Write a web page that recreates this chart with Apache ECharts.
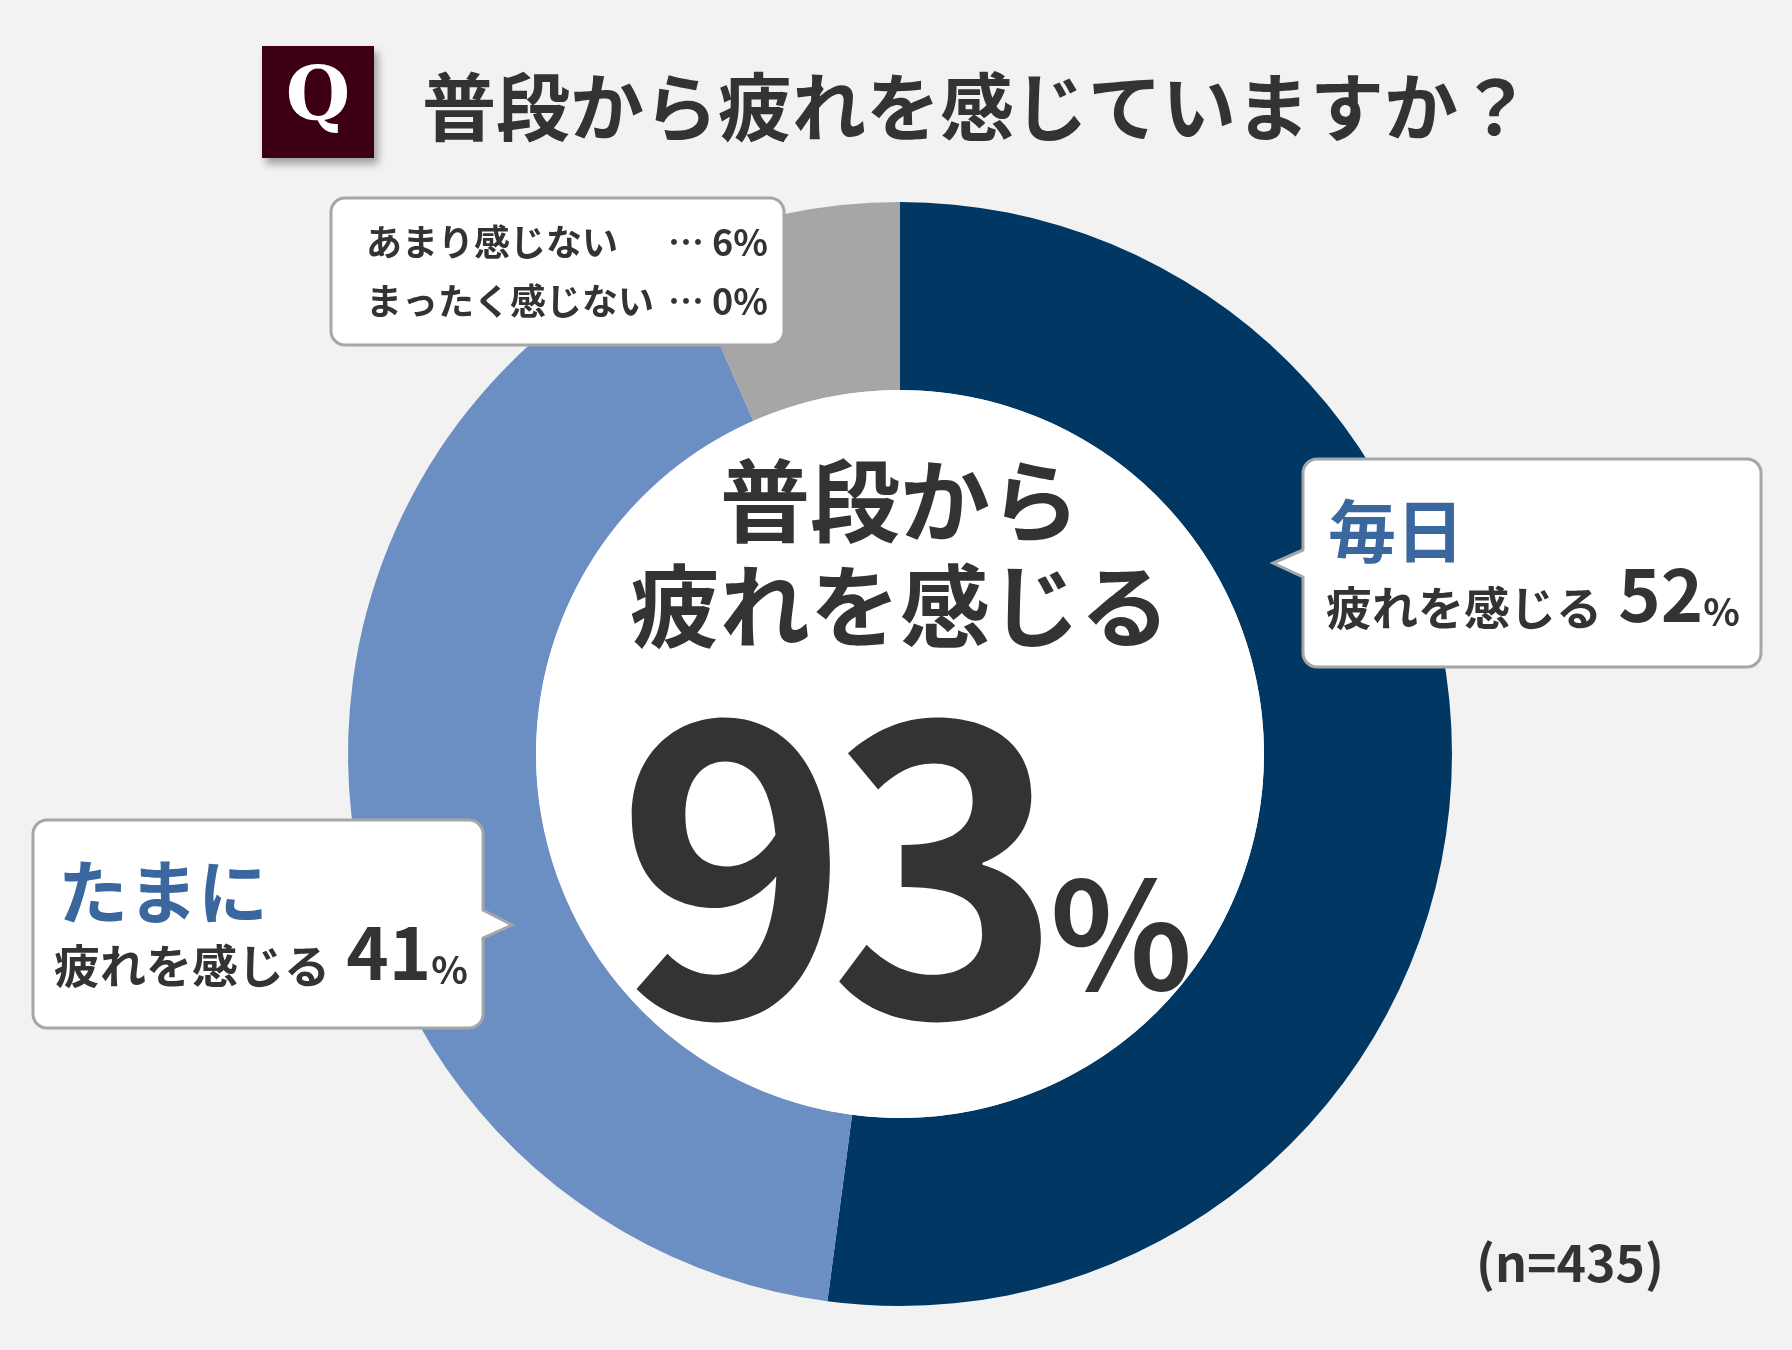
<!DOCTYPE html>
<html lang="ja">
<head>
<meta charset="utf-8">
<title>普段から疲れを感じていますか？</title>
<script src="https://cdn.jsdelivr.net/npm/echarts@6/dist/echarts.min.js"></script>
<style>
  html, body { margin: 0; padding: 0; background: #f2f2f2; }
  #chart { width: 1792px; height: 1350px; }
</style>
</head>
<body>
<div id="chart"></div>
<script>
const question = '普段から疲れを感じていますか？'
const categories = ['毎日', 'たまに', 'あまり感じない', 'まったく感じない']
const percents = [52, 41, 6, 0]
// slice sizes as they appear in the ring (labels are rounded)
const shares = [52.1, 41.3, 6.6, 0]
const totalTired = 93
const sampleSize = 435
const colors = ['#013763', '#6b8fc3', '#a6a6a6', '#d9d9d9']

const FONT = '"Noto Sans CJK JP", "Noto Sans", sans-serif'
const DARK = '#333333'
const ACCENT = '#3a679e'
const BORDER = '#a6a6a6'
const CX = 900, CY = 754

function bubble(x, y, w, h, side, tip, b0, b1) {
  const els = [{
    type: 'rect', z: 10,
    shape: { x, y, width: w, height: h, r: 14 },
    style: { fill: '#fff', stroke: BORDER, lineWidth: 3 },
  }]
  if (side) {
    const edge = side === 'left' ? x : x + w
    const inset = side === 'left' ? 3 : -3
    els.push({
      type: 'polygon', z: 11,
      shape: { points: [[edge + inset, b0], tip, [edge + inset, b1]] },
      style: { fill: '#fff' },
    })
    els.push({
      type: 'polyline', z: 11,
      shape: { points: [[edge, b0], tip, [edge, b1]] },
      style: { stroke: BORDER, lineWidth: 3, fill: null },
    })
  }
  return els
}

function txt(x, y, text, size, color, align, family) {
  return {
    type: 'text', z: 12, x, y,
    style: {
      text, fill: color, font: `bold ${size}px ${family || FONT}`,
      align: align || 'left', verticalAlign: 'middle',
    },
  }
}

function pctLine(x, y, i) {
  return {
    type: 'text', z: 12, x, y,
    style: {
      text: `{a|疲れを感じる}{b| ${percents[i]}}{c|%}`,
      align: 'left', verticalAlign: 'middle',
      rich: {
        a: { font: `bold 46px ${FONT}`, fill: DARK, verticalAlign: 'bottom' },
        b: { font: `bold 72px ${FONT}`, fill: DARK, verticalAlign: 'bottom' },
        c: { font: `bold 38px ${FONT}`, fill: DARK, verticalAlign: 'bottom' },
      },
    },
  }
}

const chart = echarts.init(document.getElementById('chart'))

const bigDigits = String(totalTired).split('')

const graphics = [
  // question header
  {
    type: 'rect', z: 10,
    shape: { x: 262, y: 46, width: 112, height: 112 },
    style: { fill: '#3d0013', shadowBlur: 8, shadowOffsetX: 4, shadowOffsetY: 6, shadowColor: 'rgba(0,0,0,0.35)' },
  },
  txt(318, 100, 'Q', 74, '#fff', 'center', '"DejaVu Serif", serif'),
  txt(422, 107, question, 74, DARK),

  // centre text
  txt(CX, 501, '普段から', 90, DARK, 'center'),
  txt(CX, 606, '疲れを感じる', 90, DARK, 'center'),
  txt(733, 866, bigDigits[0], 397, DARK, 'center'),
  txt(946, 866, bigDigits[1], 397, DARK, 'center'),
  txt(1050, 934, '%', 148, DARK),

  // 毎日
  ...bubble(1303, 459, 458, 208, 'left', [1273, 563], 550, 577),
  txt(1328, 531, categories[0], 68, ACCENT),
  pctLine(1326, 595, 0),

  // たまに
  ...bubble(33, 820, 450, 208, 'right', [512, 925], 910, 938),
  txt(58, 892, categories[1], 70, ACCENT),
  pctLine(54, 953, 1),

  // small answers
  ...bubble(331, 198, 453, 147),
  txt(366, 242, categories[2], 36, DARK),
  txt(768, 242, `… ${percents[2]}%`, 36, DARK, 'right'),
  txt(366, 301, categories[3], 36, DARK),
  txt(768, 301, `… ${percents[3]}%`, 36, DARK, 'right'),

  txt(1570, 1263, `(n=${sampleSize})`, 50, DARK, 'center'),
]

chart.setOption({
  backgroundColor: '#f2f2f2',
  animation: false,
  series: [
    {
      type: 'pie',
      center: [CX, CY],
      radius: [364, 552],
      startAngle: 90,
      clockwise: true,
      silent: true,
      label: { show: false },
      labelLine: { show: false },
      itemStyle: { borderWidth: 0 },
      data: categories.map((name, i) => ({
        name, value: shares[i], itemStyle: { color: colors[i] },
      })),
    },
    {
      type: 'pie',
      center: [CX, CY],
      radius: [0, 364],
      silent: true,
      label: { show: false },
      data: [{ value: 1, itemStyle: { color: '#ffffff' } }],
    },
  ],
  graphic: { elements: graphics },
})

window.addEventListener('resize', () => chart.resize())
</script>
</body>
</html>
